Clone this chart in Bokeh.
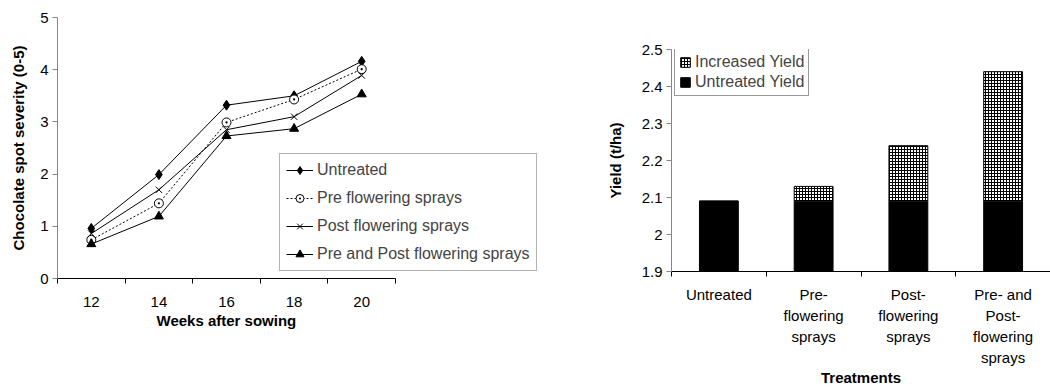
from bokeh.plotting import figure
from bokeh.layouts import row
from bokeh.models import (FixedTicker, Legend, LegendItem, Range1d, Title,
                          NumeralTickFormatter, ColumnDataSource)
from bokeh.embed import file_html
from bokeh.resources import INLINE

# ---------------- data ----------------
weeks = [12, 14, 16, 18, 20]
untreated = [0.96, 1.99, 3.32, 3.50, 4.16]
pre_flowering = [0.74, 1.44, 2.99, 3.43, 4.01]
post_flowering = [0.86, 1.70, 2.85, 3.10, 3.89]
pre_and_post = [0.66, 1.19, 2.73, 2.87, 3.53]
series_names = ["Untreated", "Pre flowering sprays",
                "Post flowering sprays", "Pre and Post flowering sprays"]

treatments = ["Untreated", "Pre-\nflowering\nsprays", "Post-\nflowering\nsprays",
              "Pre- and\nPost-\nflowering\nsprays"]
untreated_yield = [2.09, 2.09, 2.09, 2.09]
increased_yield = [0.0, 0.04, 0.15, 0.35]
yield_ticks = [1.9, 2.0, 2.1, 2.2, 2.3, 2.4, 2.5]

FONT = "Liberation Sans"
TICK_FS = "15px"
TITLE_FS = "15px"
LEGEND_FS = "16px"
AXIS_GRAY = "#868686"

# ---------------- left chart ----------------
# the frame is wider than the axis so that the legend can overhang the axis end
LEFT_W = 560
AXIS_PX = 338          # drawn length of the x axis
FRAME_PX = LEFT_W - 57
x_lo = weeks[0] - 1
x_hi_axis = weeks[-1] + 1
x_hi = x_lo + (x_hi_axis - x_lo) * FRAME_PX / AXIS_PX

p1 = figure(width=LEFT_W, height=388, output_backend="svg", toolbar_location=None,
            x_range=Range1d(x_lo, x_hi), y_range=Range1d(0, 5),
            min_border_left=57, min_border_right=0,
            min_border_top=17, min_border_bottom=110)
p1.frame_align = False
p1.outline_line_color = None
p1.grid.visible = False

styles = [
    dict(marker="diamond", size=10, fill_color="black", dash="solid"),
    dict(marker="circle_dot", size=9, fill_color="white", dash="2 2"),
    dict(marker="x", size=9, fill_color="black", dash="solid"),
    dict(marker="triangle", size=9, fill_color="black", dash="solid"),
]
items = []
for name, vals, st in zip(series_names,
                          [untreated, pre_flowering, post_flowering, pre_and_post],
                          styles):
    src = ColumnDataSource(dict(x=weeks, y=vals))
    ln = p1.line("x", "y", source=src, line_color="black", line_width=1,
                 line_dash=st["dash"])
    sc = p1.scatter("x", "y", source=src, marker=st["marker"], size=st["size"],
                    line_color="black", fill_color=st["fill_color"], line_width=1)
    items.append(LegendItem(label=name, renderers=[ln, sc]))

leg1 = Legend(items=items, location=(222, 7), glyph_width=27, glyph_height=20,
              spacing=8, padding=6, margin=0, label_standoff=4,
              label_text_font=FONT, label_text_font_size=LEGEND_FS,
              border_line_color="#666666", border_line_width=1,
              background_fill_color="white", background_fill_alpha=1)
p1.add_layout(leg1, "center")

xa = p1.xaxis[0]
xa.bounds = (x_lo, x_hi_axis)
xa.ticker = FixedTicker(ticks=weeks, minor_ticks=list(range(x_lo, x_hi_axis + 1, 2)))
xa.major_tick_out = 0
xa.major_tick_in = 0
xa.minor_tick_out = 5
xa.minor_tick_in = 0
xa.minor_tick_line_color = "black"
xa.axis_line_color = "black"
xa.major_label_standoff = 13

xtitle = Title(text="Weeks after sowing", align="left", offset=99, standoff=0,
               text_font=FONT, text_font_size=TITLE_FS, text_font_style="bold",
               text_color="black")
p1.add_layout(xtitle, "below")

ya = p1.yaxis[0]
ya.ticker = FixedTicker(ticks=[0, 1, 2, 3, 4, 5])
ya.major_tick_out = 5
ya.major_tick_in = 0
ya.minor_tick_out = 0
ya.axis_line_color = AXIS_GRAY
ya.major_tick_line_color = AXIS_GRAY
ya.major_label_standoff = 4
ya.axis_label = "Chocolate spot severity (0-5)"
ya.axis_label_standoff = 10

for ax in [xa, ya]:
    ax.major_label_text_font = FONT
    ax.major_label_text_font_size = TICK_FS
    ax.major_label_text_color = "black"
    ax.axis_label_text_font = FONT
    ax.axis_label_text_font_size = TITLE_FS
    ax.axis_label_text_font_style = "bold"
    ax.axis_label_text_color = "black"

# ---------------- right chart ----------------
p2 = figure(width=1050 - LEFT_W, height=388, output_backend="svg", toolbar_location=None,
            x_range=Range1d(0, 4), y_range=Range1d(1.9, 2.5),
            min_border_left=671 - LEFT_W, min_border_right=0,
            min_border_top=49, min_border_bottom=116)
p2.frame_align = False
p2.outline_line_color = None
p2.grid.visible = False

centers = [i + 0.5 for i in range(len(treatments))]
tops = [u + d for u, d in zip(untreated_yield, increased_yield)]
src2 = ColumnDataSource(dict(x=centers, u=untreated_yield, base=[0] * len(centers),
                             top=tops))
r_untreated = p2.vbar(x="x", width=0.41, bottom="base", top="u", source=src2,
                      fill_color="black", line_color="black", line_width=1)
r_increase = p2.vbar(x="x", width=0.41, bottom="u", top="top", source=src2,
                     fill_color="white", line_color="black", line_width=1,
                     hatch_pattern="cross", hatch_scale=3, hatch_weight=1,
                     hatch_color="black")

leg2 = Legend(items=[LegendItem(label="Increased Yield", renderers=[r_increase]),
                     LegendItem(label="Untreated Yield", renderers=[r_untreated])],
              location=(3, 175), glyph_width=12, glyph_height=12, label_height=16,
              spacing=2, padding=4, margin=0, label_standoff=4,
              label_text_font=FONT, label_text_font_size=LEGEND_FS,
              border_line_color="#333333", border_line_width=1,
              background_fill_color="white", background_fill_alpha=1)
p2.add_layout(leg2, "center")

xb = p2.xaxis[0]
xb.ticker = FixedTicker(ticks=centers, minor_ticks=list(range(len(treatments) + 1)))
xb.major_label_overrides = {c: t for c, t in zip(centers, treatments)}
xb.major_tick_out = 0
xb.major_tick_in = 0
xb.minor_tick_out = 5
xb.minor_tick_in = 0
xb.minor_tick_line_color = "black"
xb.axis_line_color = "black"
xb.major_label_standoff = 9
xb.major_label_text_line_height = 1.24
xb.axis_label = "Treatments"
xb.axis_label_standoff = 0

yb = p2.yaxis[0]
yb.ticker = FixedTicker(ticks=yield_ticks)
yb.formatter = NumeralTickFormatter(format="0.[0]")
yb.major_tick_out = 5
yb.major_tick_in = 0
yb.minor_tick_out = 0
yb.axis_line_color = AXIS_GRAY
yb.major_tick_line_color = AXIS_GRAY
yb.major_label_standoff = 4
yb.axis_label = "Yield (t/ha)"
yb.axis_label_standoff = 15

for ax in [xb, yb]:
    ax.major_label_text_font = FONT
    ax.major_label_text_font_size = TICK_FS
    ax.major_label_text_color = "black"
    ax.axis_label_text_font = FONT
    ax.axis_label_text_font_size = TITLE_FS
    ax.axis_label_text_font_style = "bold"
    ax.axis_label_text_color = "black"

layout = row(p1, p2)
open("out.html", "w").write(file_html(layout, INLINE))
